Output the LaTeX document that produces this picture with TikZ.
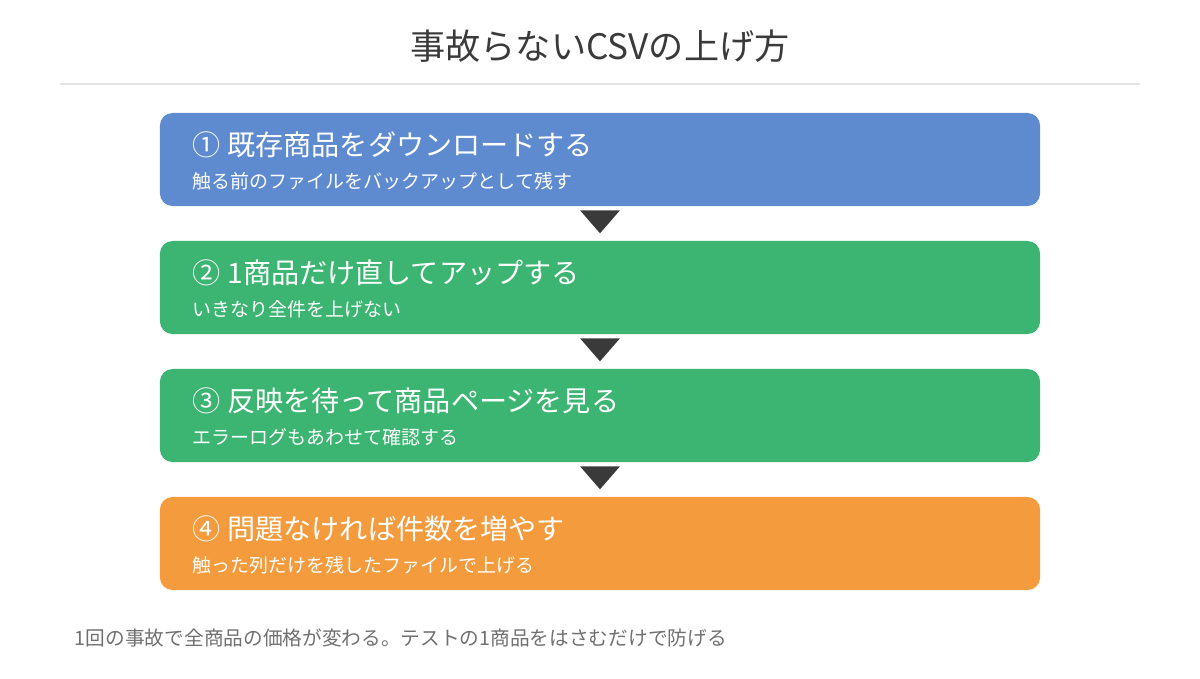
\documentclass[tikz,border=0pt]{standalone}
\usepackage{fontspec}
\setmainfont{Noto Sans CJK JP}
\usetikzlibrary{calc, positioning}
\definecolor{stepblue}{HTML}{5E8BCF}
\definecolor{stepgreen}{HTML}{3DB572}
\definecolor{steporange}{HTML}{F39B3D}
\definecolor{darktext}{HTML}{3A3A3A}
\definecolor{greytext}{HTML}{707070}

\begin{document}
\begin{tikzpicture}[x=0.025cm, y=-0.025cm]
	\tikzset{stepbox/.style={rounded corners=9pt, minimum width=22cm, minimum height=2.325cm, inner sep=0pt},
		main/.style={anchor=west, text=white, font=\fontsize{20}{22}\selectfont},
		sub/.style={anchor=west, text=white, font=\fontsize{13.5}{15}\selectfont},
		down/.style={fill=darktext}}

	\useasboundingbox (0,0) rectangle (1200,678);

	\node[text=darktext, font=\fontsize{25}{28}\selectfont] (title) at (600,46) {事故らないCSVの上げ方};
	\draw[line width=1.2pt, color=black!10] (60,84) -- (1140,84);

	\node[stepbox, fill=stepblue] (s1) at (600,159.5) {};
	\node[stepbox, fill=stepgreen] (s2) at (600,287.5) {};
	\node[stepbox, fill=stepgreen] (s3) at (600,415.5) {};
	\node[stepbox, fill=steporange] (s4) at (600,543.5) {};

	\node[main] (m1) at (188,145) {① 既存商品をダウンロードする};
	\node[sub] (t1) at (188,181) {触る前のファイルをバックアップとして残す};
	\node[main] (m2) at (188,273) {② 1商品だけ直してアップする};
	\node[sub] (t2) at (188,309) {いきなり全件を上げない};
	\node[main] (m3) at (188,401) {③ 反映を待って商品ページを見る};
	\node[sub] (t3) at (188,437) {エラーログもあわせて確認する};
	\node[main] (m4) at (188,529) {④ 問題なければ件数を増やす};
	\node[sub] (t4) at (188,565) {触った列だけを残したファイルで上げる};

	% arrows between steps
	\foreach \a in {1,2,3}{
		\fill[down] ($(s\a.south)+(-20,4)$) -- ($(s\a.south)+(20,4)$) -- ($(s\a.south)+(0,27)$) -- cycle;
	}

	\node[anchor=west, text=greytext, font=\fontsize{14}{16}\selectfont] (note) at (70,638) {1回の事故で全商品の価格が変わる。テストの1商品をはさむだけで防げる};
\end{tikzpicture}
\end{document}
